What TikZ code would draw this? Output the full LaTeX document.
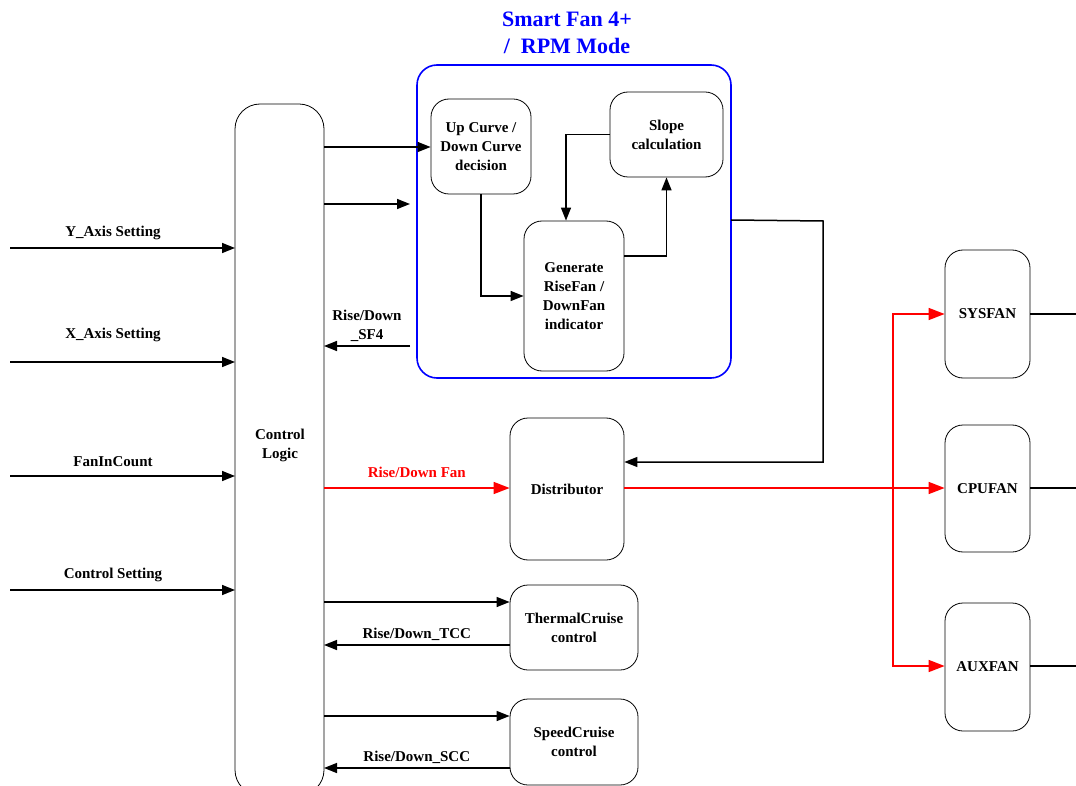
\documentclass[tikz,border=0pt]{standalone}
\usepackage{fontspec}
\setmainfont{Liberation Serif}
\usetikzlibrary{arrows.meta, positioning}

\begin{document}
\begin{tikzpicture}[x=1pt, y=-1pt, >={Triangle[length=13pt,width=10pt]},
    box/.style={draw, rounded corners=18pt, line width=0.8pt, align=center, inner sep=0pt,
      font=\fontsize{15}{19}\selectfont\bfseries},
    lbl/.style={align=center, font=\fontsize{15}{19}\selectfont\bfseries},
    sig/.style={->, line width=1.5pt},
    rsig/.style={-{Triangle[length=16pt,width=12pt]}, line width=1.6pt, red}]
    \useasboundingbox (0,0) rectangle (1076,786);

    % smart fan block
    \node[blue, align=center, font=\fontsize{22}{27}\selectfont\bfseries] (title) at (567,33) {Smart Fan 4+\\/\ \ RPM Mode};
    \draw[blue, line width=1.6pt, rounded corners=20pt] (417,65) rectangle (731,378);
    \coordinate (sfin) at (410,204);
    \coordinate (sfout) at (410,346);
    \coordinate (sfr) at (731,220);

    % control logic
    \draw[line width=0.8pt, rounded corners=25pt] (235,104) rectangle (324,795);
    \node[lbl] (ctrl) at (280,445) {Control\\Logic};
    \coordinate (c1) at (324,147);
    \coordinate (c2) at (324,204);
    \coordinate (c3) at (324,346);
    \coordinate (c4) at (324,488);
    \coordinate (c5) at (324,602);
    \coordinate (c6) at (324,645);
    \coordinate (c7) at (324,716);
    \coordinate (c8) at (324,768);

    % boxes
    \node[box, minimum width=100pt, minimum height=95pt] (updown) at (481,146.5) {Up Curve /\\Down Curve\\decision};
    \node[box, minimum width=113pt, minimum height=85pt] (slope) at (666.5,134.5) {Slope\\calculation};
    \node[box, minimum width=100pt, minimum height=150pt] (gen) at (574,296) {Generate\\RiseFan /\\DownFan\\indicator};
    \node[box, minimum width=114pt, minimum height=142pt] (dist) at (567,489) {Distributor};
    \node[box, minimum width=128pt, minimum height=85pt] (tcc) at (574,627.5) {ThermalCruise\\control};
    \node[box, minimum width=128pt, minimum height=86pt] (scc) at (574,742) {SpeedCruise\\control};
    \node[box, minimum width=85pt, minimum height=128pt] (sys) at (987.5,314) {SYSFAN};
    \node[box, minimum width=85pt, minimum height=127pt] (cpu) at (987.5,488.5) {CPUFAN};
    \node[box, minimum width=85pt, minimum height=128pt] (aux) at (987.5,667) {AUXFAN};

    % inputs
    \foreach \y/\ly/\txt in {248/233/Y\_Axis Setting, 362/335/X\_Axis Setting, 476/462/FanInCount, 590/575/Control Setting} {
      \draw[sig] (10,\y) -- (235,\y);
      \node[lbl] at (113,\ly) {\txt};
    }

    % control logic links
    \draw[sig] (c1) -- (updown.west |- c1);
    \draw[sig] (c2) -- (sfin);
    \draw[sig] (sfout) -- (c3);
    \node[lbl, align=center] (sf4) at (367,326) {Rise/Down\\\_SF4};
    \draw[sig] (c5) -- (tcc.west |- c5);
    \draw[sig] (tcc.west |- c6) -- (c6) node[lbl, midway, above] {Rise/Down\_TCC};
    \draw[sig] (c7) -- (scc.west |- c7);
    \draw[sig] (scc.west |- c8) -- (c8) node[lbl, midway, above] {Rise/Down\_SCC};

    % inside smart fan
    \draw[sig] (updown.south) |- (gen.west |- 0,296);
    \draw[sig] (gen.east |- 0,256) -| (slope.south);
    \draw[sig] (slope.west) -| (gen.north -| 566,0);
    \draw[sig] (sfr) -- (823,221) |- (dist.east |- 0,462);

    % fan outputs
    \draw[rsig] (c4) -- (dist.west |- c4) node[lbl, midway, above=6pt, red] {Rise/Down Fan};
    \draw[rsig] (dist.east |- c4) -- (cpu.west |- c4);
    \draw[rsig] (893,488) |- (sys.west);
    \draw[rsig] (893,488) |- (aux.west |- 0,666);
    \foreach \f/\y in {sys/314, cpu/488, aux/666}
      \draw[line width=1.5pt] (\f.east |- 0,\y) -- (1080,\y);
\end{tikzpicture}
\end{document}
